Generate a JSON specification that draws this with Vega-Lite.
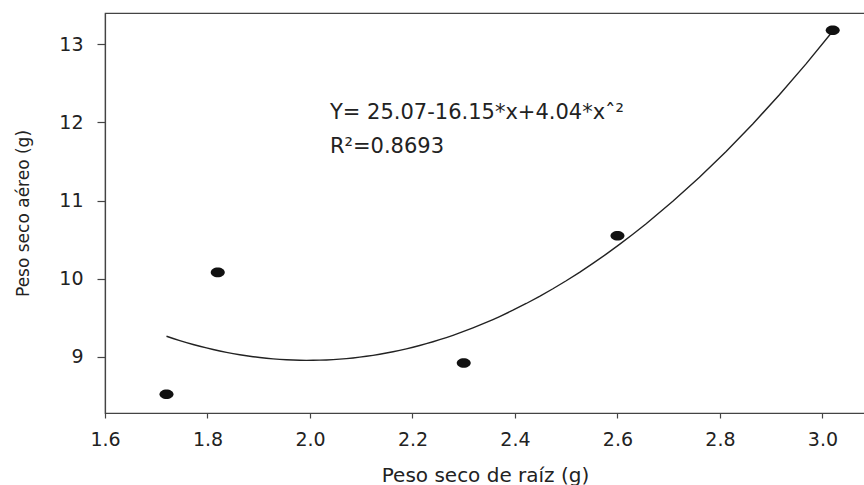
{
  "$schema": "https://vega.github.io/schema/vega-lite/v6.json",
  "width": 760,
  "height": 400,
  "autosize": {"type": "none"},
  "padding": {"left": 105, "top": 13, "right": 0, "bottom": 72},
  "background": "white",
  "config": {
    "view": {"stroke": "#444", "strokeWidth": 1.2},
    "font": "DejaVu Sans",
    "axis": {
      "grid": false,
      "domainColor": "#444",
      "domainWidth": 1.2,
      "tickColor": "#444",
      "tickWidth": 1.2,
      "labelColor": "#222",
      "titleColor": "#222",
      "labelFont": "DejaVu Sans",
      "titleFont": "DejaVu Sans",
      "labelFontSize": 19,
      "titleFontSize": 17,
      "titleFontWeight": "normal"
    }
  },
  "data": {
    "values": [
      {"x": 1.72, "y": 8.52},
      {"x": 1.82, "y": 10.08},
      {"x": 2.3, "y": 8.92},
      {"x": 2.6, "y": 10.55},
      {"x": 3.02, "y": 13.18}
    ]
  },
  "layer": [
    {
      "transform": [{"regression": "y", "on": "x", "method": "poly", "order": 2}],
      "mark": {"type": "line", "color": "#222", "strokeWidth": 1.4},
      "encoding": {
        "x": {"field": "x", "type": "quantitative", "scale": {"domain": [1.6, 3.083], "nice": false, "zero": false}},
        "y": {"field": "y", "type": "quantitative", "scale": {"domain": [8.28, 13.4], "nice": false, "zero": false}}
      }
    },
    {
      "mark": {
        "type": "point",
        "filled": true,
        "shape": "M-1,0A1,0.68,0,1,0,1,0A1,0.68,0,1,0,-1,0Z",
        "size": 196,
        "color": "#111",
        "opacity": 1
      },
      "encoding": {
        "x": {
          "field": "x",
          "type": "quantitative",
          "scale": {"domain": [1.6, 3.083], "nice": false, "zero": false},
          "axis": {
            "title": "Peso seco de raíz (g)",
            "titleFontSize": 20,
            "values": [1.6, 1.8, 2.0, 2.2, 2.4, 2.6, 2.8, 3.0],
            "format": ".1f",
            "tickSize": 5,
            "labelPadding": 12,
            "titlePadding": 16,
            "labelFlush": false
          }
        },
        "y": {
          "field": "y",
          "type": "quantitative",
          "scale": {"domain": [8.28, 13.4], "nice": false, "zero": false},
          "axis": {
            "title": "Peso seco aéreo (g)",
            "values": [9, 10, 11, 12, 13],
            "format": ".0f",
            "tickSize": 8,
            "labelPadding": 14,
            "titlePadding": 26,
            "labelFlush": false
          }
        }
      }
    },
    {
      "data": {
        "values": [
          {"label": "Y= 25.07-16.15*x+4.04*xˆ²", "x": 2.039, "y": 12.044},
          {"label": "R²=0.8693", "x": 2.039, "y": 11.605}
        ]
      },
      "mark": {"type": "text", "align": "left", "baseline": "alphabetic", "fontSize": 21, "font": "DejaVu Sans", "color": "#222"},
      "encoding": {
        "x": {"field": "x", "type": "quantitative"},
        "y": {"field": "y", "type": "quantitative"},
        "text": {"field": "label"}
      }
    }
  ]
}
